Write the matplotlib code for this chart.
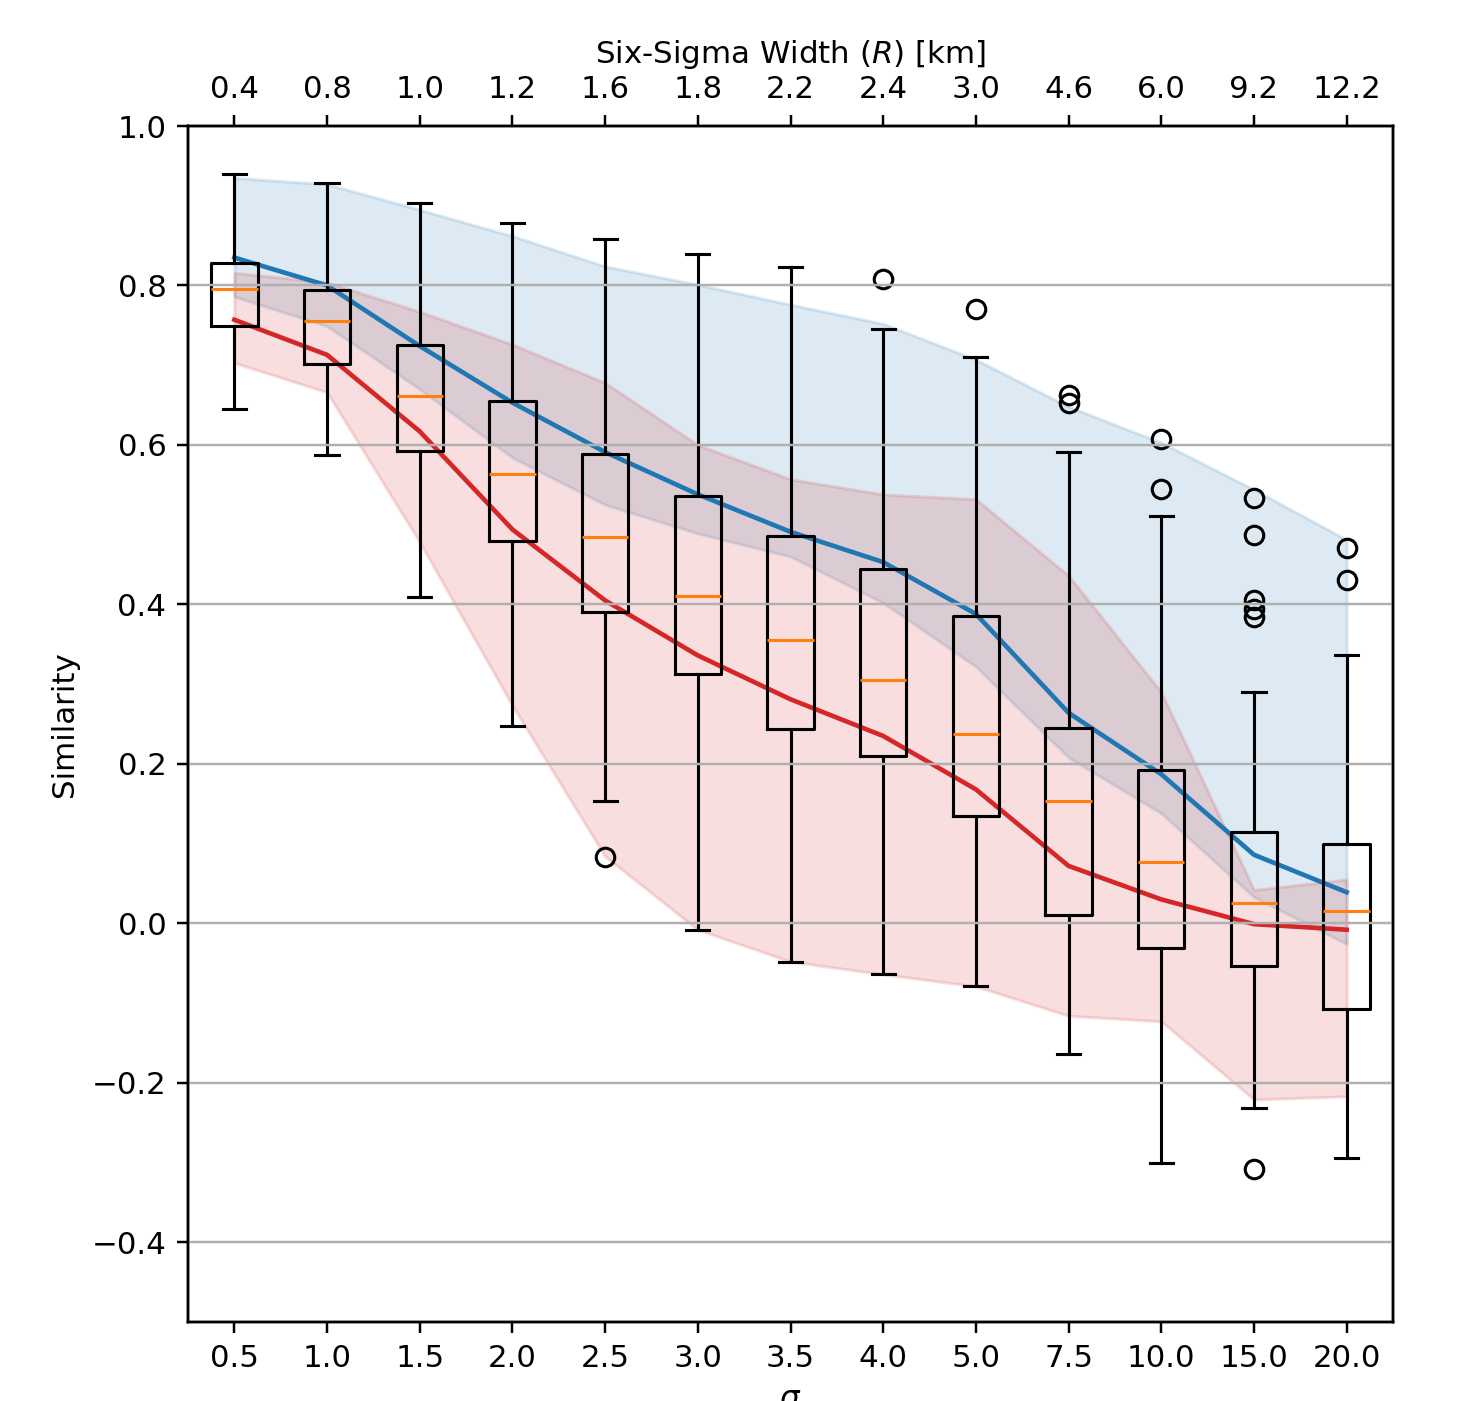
import matplotlib
matplotlib.use("Agg")
import matplotlib.pyplot as plt
import numpy as np

sigma_labels = ['0.5', '1.0', '1.5', '2.0', '2.5', '3.0', '3.5', '4.0', '5.0', '7.5', '10.0', '15.0', '20.0']
width_labels = ['0.4', '0.8', '1.0', '1.2', '1.6', '1.8', '2.2', '2.4', '3.0', '4.6', '6.0', '9.2', '12.2']

whislo = [0.645, 0.588, 0.409, 0.247, 0.153, -0.008, -0.048, -0.064, -0.079, -0.164, -0.301, -0.232, -0.294]
q1 = [0.749, 0.702, 0.592, 0.480, 0.390, 0.313, 0.244, 0.210, 0.134, 0.010, -0.031, -0.053, -0.107]
med = [0.795, 0.755, 0.661, 0.564, 0.484, 0.410, 0.355, 0.305, 0.238, 0.153, 0.077, 0.025, 0.015]
q3 = [0.828, 0.794, 0.725, 0.655, 0.589, 0.536, 0.486, 0.445, 0.385, 0.245, 0.192, 0.114, 0.100]
whishi = [0.940, 0.929, 0.904, 0.878, 0.858, 0.839, 0.823, 0.745, 0.710, 0.591, 0.511, 0.290, 0.337]
fliers = [[], [], [], [], [0.083], [], [], [0.808], [0.771], [0.662, 0.652], [0.607, 0.545],
          [0.534, 0.487, 0.406, 0.394, 0.384, -0.308], [0.471, 0.430]]

blue_line = [0.835, 0.800, 0.724, 0.653, 0.591, 0.538, 0.491, 0.453, 0.388, 0.264, 0.187, 0.086, 0.039]
blue_upper = [0.935, 0.927, 0.895, 0.862, 0.824, 0.801, 0.776, 0.752, 0.707, 0.648, 0.603, 0.544, 0.481]
blue_lower = [0.786, 0.749, 0.670, 0.584, 0.525, 0.489, 0.460, 0.402, 0.322, 0.208, 0.138, 0.033, -0.026]

red_line = [0.757, 0.713, 0.617, 0.494, 0.405, 0.336, 0.281, 0.235, 0.168, 0.072, 0.030, -0.001, -0.008]
red_upper = [0.816, 0.804, 0.767, 0.726, 0.678, 0.600, 0.557, 0.538, 0.532, 0.436, 0.290, 0.042, 0.055]
red_lower = [0.703, 0.666, 0.478, 0.273, 0.084, -0.008, -0.048, -0.064, -0.079, -0.116, -0.123, -0.221, -0.217]

positions = np.arange(1, len(sigma_labels) + 1)

DPI = 222
fig = plt.figure(figsize=(1461 / DPI, 1401 / DPI), dpi=DPI)
ax = fig.add_axes([188 / 1461, 1 - 1322 / 1401, (1393 - 188) / 1461, (1322 - 126) / 1401])

ax.fill_between(positions, blue_lower, blue_upper, color='tab:blue', alpha=0.15)
ax.fill_between(positions, red_lower, red_upper, color='tab:red', alpha=0.15)
ax.plot(positions, blue_line, color='tab:blue', lw=1.5)
ax.plot(positions, red_line, color='tab:red', lw=1.5)

stats = []
for i in range(len(positions)):
    stats.append(dict(whislo=whislo[i], q1=q1[i], med=med[i], q3=q3[i],
                      whishi=whishi[i], fliers=fliers[i]))
ax.bxp(stats, positions=positions, widths=0.5, showfliers=True)

ax.set_xlim(0.5, 13.5)
ax.set_ylim(-0.5, 1.0)
ax.set_yticks([-0.4, -0.2, 0.0, 0.2, 0.4, 0.6, 0.8, 1.0])
ax.yaxis.grid(True)
ax.set_axisbelow(False)
ax.set_xticks(positions)
ax.set_xticklabels(sigma_labels)
ax.set_xlabel(r'$\sigma$')
ax.set_ylabel('Similarity')

ax2 = ax.twiny()
ax2.set_xlim(ax.get_xlim())
ax2.set_xticks(positions)
ax2.set_xticklabels(width_labels)
ax2.set_xlabel(r'Six-Sigma Width ($R$) [km]')

fig.savefig('out.png', dpi=DPI)
